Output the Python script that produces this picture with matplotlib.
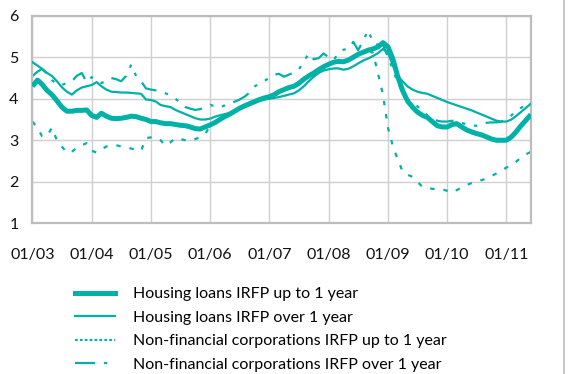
import numpy as np
import pandas as pd
import matplotlib
matplotlib.use("Agg")
import matplotlib.pyplot as plt
import matplotlib.dates as mdates
from matplotlib.lines import Line2D

plt.rcParams['font.family'] = ['Lato', 'DejaVu Sans']

months = pd.date_range('2003-01-01', periods=102, freq='MS')

# housing loans, initial rate fixation up to 1 year
housing_short = [
    4.30, 4.45, 4.35, 4.20, 4.10, 3.95, 3.80, 3.70, 3.70, 3.72, 3.72, 3.73,
    3.60, 3.55, 3.65, 3.58, 3.53, 3.52, 3.53, 3.55, 3.58, 3.57, 3.53, 3.50,
    3.45, 3.45, 3.42, 3.40, 3.40, 3.38, 3.36, 3.35, 3.32, 3.28, 3.27, 3.32,
    3.37, 3.43, 3.50, 3.57, 3.63, 3.70, 3.77, 3.83, 3.88, 3.93, 3.98, 4.02,
    4.05, 4.10, 4.17, 4.22, 4.27, 4.30, 4.37, 4.47, 4.55, 4.62, 4.70, 4.77,
    4.83, 4.88, 4.90, 4.89, 4.93, 5.00, 5.07, 5.12, 5.17, 5.20, 5.25, 5.35,
    5.25, 4.95, 4.55, 4.20, 3.95, 3.80, 3.68, 3.60, 3.55, 3.45, 3.35, 3.32,
    3.32, 3.38, 3.40, 3.32, 3.25, 3.20, 3.16, 3.13, 3.08, 3.03, 3.00, 3.00,
    3.00, 3.08, 3.20, 3.35, 3.48, 3.62,
]

# housing loans, initial rate fixation over 1 year
housing_long = [
    4.88, 4.80, 4.72, 4.62, 4.55, 4.42, 4.28, 4.17, 4.10, 4.20, 4.27, 4.30,
    4.33, 4.40, 4.30, 4.22, 4.17, 4.16, 4.15, 4.15, 4.14, 4.13, 4.12, 3.98,
    3.97, 3.93, 3.85, 3.82, 3.80, 3.73, 3.68, 3.63, 3.58, 3.53, 3.50, 3.50,
    3.52, 3.57, 3.60, 3.63, 3.65, 3.70, 3.75, 3.80, 3.85, 3.90, 3.95, 3.98,
    4.00, 4.02, 4.04, 4.07, 4.10, 4.13, 4.20, 4.30, 4.42, 4.53, 4.62, 4.68,
    4.71, 4.73, 4.73, 4.70, 4.72, 4.78, 4.85, 4.92, 4.97, 5.03, 5.10, 5.20,
    5.10, 4.80, 4.55, 4.42, 4.30, 4.22, 4.17, 4.14, 4.12, 4.07, 4.02, 3.97,
    3.92, 3.88, 3.84, 3.80, 3.76, 3.72, 3.67, 3.62, 3.57, 3.52, 3.47, 3.45,
    3.45, 3.50, 3.58, 3.68, 3.78, 3.88,
]

# non-financial corporations, initial rate fixation up to 1 year
nfc_short = [
    3.45, 3.30, 3.10, 3.10, 3.30, 3.00, 2.85, 2.70, 2.72, 2.82, 2.88, 2.93,
    2.75, 2.70, 2.78, 2.85, 2.88, 2.88, 2.85, 2.83, 2.80, 2.77, 2.75, 3.05,
    3.07, 3.07, 3.00, 2.87, 2.95, 3.05, 3.03, 3.00, 2.99, 3.03, 3.07, 3.15,
    3.35, 3.42, 3.50, 3.56, 3.62, 3.68, 3.75, 3.82, 3.88, 3.93, 3.98, 4.02,
    4.05, 4.10, 4.15, 4.20, 4.25, 4.30, 4.38, 4.47, 4.55, 4.62, 4.70, 4.77,
    4.83, 4.87, 4.88, 4.88, 4.92, 5.00, 5.07, 5.12, 5.17, 5.10, 4.60, 4.10,
    3.30, 2.85, 2.55, 2.25, 2.17, 2.12, 2.00, 1.88, 1.85, 1.83, 1.82, 1.82,
    1.78, 1.74, 1.80, 1.86, 1.92, 1.97, 2.00, 2.04, 2.08, 2.14, 2.20, 2.27,
    2.34, 2.41, 2.48, 2.58, 2.66, 2.72,
]

# non-financial corporations, initial rate fixation over 1 year
nfc_long = [
    4.55, 4.65, 4.72, 4.60, 4.45, 4.35, 4.33, 4.38, 4.42, 4.55, 4.62, 4.40,
    4.52, 4.45, 4.38, 4.42, 4.50, 4.47, 4.42, 4.55, 4.82, 4.55, 4.42, 4.25,
    4.22, 4.20, 4.18, 4.13, 4.08, 4.00, 3.90, 3.80, 3.76, 3.73, 3.75, 3.80,
    3.85, 3.82, 3.79, 3.84, 3.90, 3.93, 3.98, 4.05, 4.15, 4.29, 4.38, 4.43,
    4.50, 4.58, 4.60, 4.53, 4.58, 4.63, 4.70, 4.90, 5.09, 4.95, 4.98, 5.09,
    5.00, 4.93, 5.10, 5.18, 5.20, 5.37, 5.17, 5.40, 5.65, 5.35, 5.30, 5.30,
    5.00, 4.70, 4.40, 4.15, 4.00, 3.90, 3.82, 3.70, 3.60, 3.52, 3.47, 3.45,
    3.45, 3.47, 3.45, 3.42, 3.38, 3.35, 3.35, 3.38, 3.42, 3.43, 3.43, 3.45,
    3.50, 3.60, 3.70, 3.78, 3.85, 3.90,
]

labels = [
    "Housing loans IRFP up to 1 year",
    "Housing loans IRFP over 1 year",
    "Non-financial corporations IRFP up to 1 year",
    "Non-financial corporations IRFP over 1 year",
]

teal = "#00B1A8"
grid_grey = "#CFCFCF"

fig = plt.figure(figsize=(5.69, 3.74), dpi=100)
ax = fig.add_axes([0.057, 0.403, 0.876, 0.555])

ax.plot(months, housing_short, color=teal, lw=3.6, solid_capstyle='butt', label=labels[0], zorder=4)
ax.plot(months, housing_long, color=teal, lw=1.6, label=labels[1], zorder=3)
ax.plot(months, nfc_short, color=teal, lw=1.6, linestyle=(0, (2, 4)), label=labels[2], zorder=2)
ax.plot(months, nfc_long, color=teal, lw=1.6, linestyle=(0, (8, 4, 1.5, 4, 1.5, 4)), label=labels[3], zorder=2)

ax.set_xlim(months[0], months[-1])
ax.set_ylim(1, 6)
ax.set_yticks([1, 2, 3, 4, 5, 6])

year_starts = pd.date_range('2003-01-01', '2011-01-01', freq='YS')
ax.set_xticks(year_starts)
ax.xaxis.set_major_formatter(mdates.DateFormatter('%m/%y'))

ax.grid(True, color=grid_grey, lw=1.0)
ax.set_axisbelow(True)
for s in ax.spines.values():
    s.set_color("#BDBDBD")
    s.set_linewidth(1.6)

ax.tick_params(axis='both', length=0, labelsize=11.5, colors='#111111')
ax.tick_params(axis='y', pad=10)
ax.tick_params(axis='x', pad=18)

handles = [
    Line2D([], [], color=teal, lw=3.6),
    Line2D([], [], color=teal, lw=1.6),
    Line2D([], [], color=teal, lw=1.6, linestyle=(0, (1.2, 1.0))),
    Line2D([], [], color=teal, lw=1.6, linestyle=(0, (9, 4, 1.5, 4, 1.5, 4))),
]
fig.legend(handles, labels, loc='upper left', bbox_to_anchor=(0.132, 0.232),
           frameon=False, fontsize=11.5, handlelength=2.5, handletextpad=1.1,
           labelspacing=0.58, borderaxespad=0, borderpad=0)

# thin rule along the right edge
fig.add_artist(Line2D([0.991, 0.991], [0.0, 1.0], transform=fig.transFigure,
                      color="#BDBDBD", lw=1.2))

fig.savefig("out.png", dpi=100)
